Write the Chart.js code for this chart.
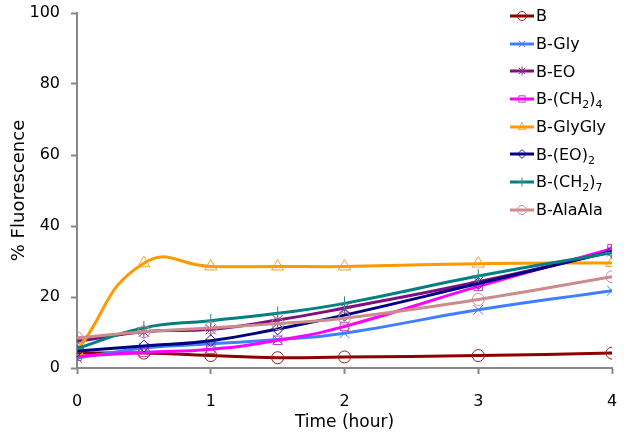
<!DOCTYPE html>
<html>
<head>
<meta charset="utf-8">
<script src="https://cdn.jsdelivr.net/npm/chart.js@4/dist/chart.umd.min.js"></script>
<style>
  html, body { margin: 0; padding: 0; background: #fff; }
  #wrap { position: relative; width: 628px; height: 441px; }
  #legend {
    position: absolute; left: 510px; top: 2px;
    font-family: "DejaVu Sans", Verdana, sans-serif; font-size: 16px; color: #000;
  }
  .lg-item { height: 27.7px; display: flex; align-items: center; white-space: nowrap; }
  .lg-item canvas { margin-right: 2px; }
  .lg-item sub { font-size: 11px; vertical-align: -4px; line-height: 0; }
</style>
</head>
<body>
<div id="wrap">
  <canvas id="chart" width="628" height="441"></canvas>
  <div id="legend"></div>
</div>
<script>
// time points (hours)
const timeHours = [0, 0.5, 1, 1.5, 2, 3, 4];

// % fluorescence per compound
const seriesB       = [4.2, 4.2, 3.5, 2.9, 3.1, 3.5, 4.2];
const seriesGly     = [2.8, 5.6, 6.8, 8.0, 9.8, 16.4, 21.8];
const seriesEO      = [7.5, 10.2, 10.9, 13.5, 16.9, 24.3, 32.8];
const seriesCH2_4   = [3.3, 4.4, 5.3, 7.8, 11.7, 23.0, 33.6];
const seriesGlyGly  = [4.8, 29.5, 28.6, 28.6, 28.6, 29.4, 29.6];
const seriesEO2     = [4.8, 6.2, 7.7, 11.0, 14.9, 23.8, 32.8];
const seriesCH2_7   = [5.5, 11.3, 13.3, 15.4, 18.2, 25.9, 32.5];
const seriesAlaAla  = [8.5, 10.2, 11.3, 12.5, 14.0, 19.3, 25.7];

const seriesNames = ['B', 'B-Gly', 'B-EO', 'B-(CH2)4', 'B-GlyGly', 'B-(EO)2', 'B-(CH2)7', 'B-AlaAla'];
const legendHtml  = ['B', 'B-Gly', 'B-EO', 'B-(CH<sub>2</sub>)<sub>4</sub>', 'B-GlyGly',
                     'B-(EO)<sub>2</sub>', 'B-(CH<sub>2</sub>)<sub>7</sub>', 'B-AlaAla'];

const yTicks = [0, 20, 40, 60, 80, 100];
const xTicks = [0, 1, 2, 3, 4];

const allSeries = [seriesB, seriesGly, seriesEO, seriesCH2_4, seriesGlyGly, seriesEO2, seriesCH2_7, seriesAlaAla];

const styles = [
  { line: '#8B0000', marker: '#9B1B1B', shape: 'circle',   r: 6 },
  { line: '#3F7FFF', marker: '#5577EE', shape: 'crossRot', r: 7 },
  { line: '#7F0F7F', marker: '#8A2A8A', shape: 'star',     r: 7 },
  { line: '#FF00FF', marker: '#CC33CC', shape: 'rect',     r: 6 },
  { line: '#FF9900', marker: '#F0A030', shape: 'triangle', r: 7 },
  { line: '#000080', marker: '#1A1A99', shape: 'rectRot',  r: 6 },
  { line: '#008080', marker: '#2A8A8A', shape: 'cross',    r: 7 },
  { line: '#CC8C8C', marker: '#D08AA0', shape: 'circle',   r: 6 }
];

const FONT = '"DejaVu Sans", Verdana, sans-serif';

const datasets = allSeries.map((vals, i) => ({
  label: seriesNames[i],
  data: vals.map((v, k) => ({ x: timeHours[k], y: v })),
  borderColor: styles[i].line,
  borderWidth: 3,
  tension: 0.5,
  pointStyle: styles[i].shape,
  pointRadius: styles[i].r,
  pointBorderColor: styles[i].marker,
  pointBorderWidth: 1,
  pointBackgroundColor: 'rgba(0,0,0,0)',
  order: allSeries.length - i
}));

const axisGray = '#888888';

new Chart(document.getElementById('chart'), {
  type: 'line',
  data: { datasets: datasets },
  options: {
    responsive: false,
    animation: false,
    layout: { padding: { top: 13, right: 16, bottom: 4, left: 0 } },
    plugins: { legend: { display: false }, tooltip: { enabled: false } },
    scales: {
      x: {
        type: 'linear',
        min: 0, max: 4,
        afterBuildTicks: s => { s.ticks = xTicks.map(v => ({ value: v })); },
        afterFit: s => { s.height = 69; s.paddingLeft = 0; s.paddingRight = 0; },
        border: { color: axisGray, width: 2 },
        grid: { drawOnChartArea: false, color: axisGray, tickLength: 6, tickWidth: 2 },
        ticks: { color: '#000', padding: 18, maxRotation: 0, font: { family: FONT, size: 16 } },
        title: { display: true, text: 'Time (hour)', color: '#000',
                 padding: { top: 0, bottom: 4 }, font: { family: FONT, size: 17 } }
      },
      y: {
        min: 0, max: 100,
        afterBuildTicks: s => { s.ticks = yTicks.map(v => ({ value: v })); },
        afterFit: s => { s.width = 77; s.paddingTop = 0; s.paddingBottom = 0; },
        border: { color: axisGray, width: 2 },
        grid: { drawOnChartArea: false, color: axisGray, tickLength: 6, tickWidth: 2 },
        ticks: { color: '#000', padding: 11, font: { family: FONT, size: 16 } },
        title: { display: true, text: '% Fluorescence', color: '#000',
                 padding: { top: 9, bottom: 0 }, font: { family: FONT, size: 18 } }
      }
    }
  }
});

// HTML legend, floated over the top right of the plot like the original
const legendEl = document.getElementById('legend');
datasets.forEach((ds, i) => {
  const row = document.createElement('div');
  row.className = 'lg-item';
  const c = document.createElement('canvas');
  c.width = 24; c.height = 14;
  const ctx = c.getContext('2d');
  ctx.strokeStyle = styles[i].line;
  ctx.lineWidth = 3;
  ctx.beginPath(); ctx.moveTo(0, 7); ctx.lineTo(24, 7); ctx.stroke();
  if (window.Chart && Chart.helpers && Chart.helpers.drawPoint) {
    ctx.strokeStyle = styles[i].marker;
    ctx.fillStyle = 'rgba(0,0,0,0)';
    ctx.lineWidth = 1;
    Chart.helpers.drawPoint(ctx, { pointStyle: styles[i].shape, radius: 4.5, rotation: 0, borderWidth: 1 }, 12, 7);
  }
  const span = document.createElement('span');
  span.innerHTML = legendHtml[i];
  row.appendChild(c);
  row.appendChild(span);
  legendEl.appendChild(row);
});
</script>
</body>
</html>
